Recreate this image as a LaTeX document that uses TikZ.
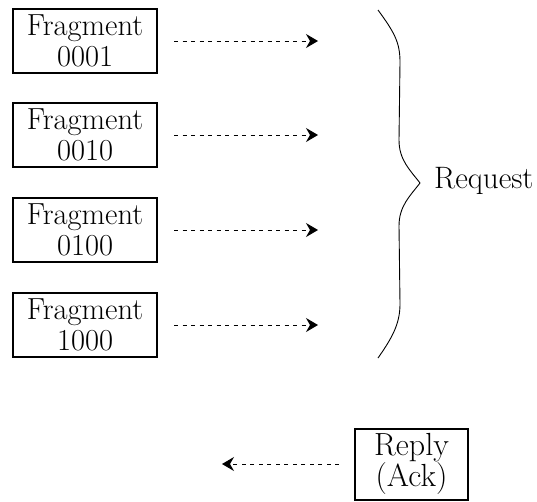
\documentclass[tikz,border=0pt]{standalone}
\usetikzlibrary{arrows.meta}
\begin{document}
\begin{tikzpicture}[x=1pt,y=-1pt,
  frag/.style={draw, line width=2pt, minimum width=144pt, minimum height=64pt,
    inner sep=0pt, align=center, font=\fontsize{30.5}{31}\selectfont},
  msg/.style={line width=0.9pt, dash pattern=on 4pt off 4.5pt,
    -{Stealth[length=12pt,width=14pt,inset=4pt]}},
  brace/.style={line width=0.9pt},
  lbl/.style={font=\fontsize{31}{31}\selectfont, inner sep=0pt}]
\useasboundingbox (0,0) rectangle (537,501);

% fragment boxes
\node[frag] (f1) at (85,41)  {Fragment\\0001};
\node[frag] (f2) at (85,135) {Fragment\\0010};
\node[frag] (f3) at (85,230) {Fragment\\0100};
\node[frag] (f4) at (85,325) {Fragment\\1000};

% arrow ends, level with each box
\coordinate (t1) at (318,41);
\coordinate (t2) at (318,135);
\coordinate (t3) at (318,230);
\coordinate (t4) at (318,325);

\draw[msg] ([xshift=16pt]f1.east) -- (t1);
\draw[msg] ([xshift=16pt]f2.east) -- (t2);
\draw[msg] ([xshift=16pt]f3.east) -- (t3);
\draw[msg] ([xshift=16pt]f4.east) -- (t4);

% brace grouping the fragments
\draw[brace] (378,10) .. controls (394,32) and (400,42) .. (400,62)
  -- (399,140) .. controls (399,160) and (410,170) .. (420,183)
  .. controls (410,196) and (399,206) .. (399,226)
  -- (400,304) .. controls (400,324) and (392,338) .. (378,358);

\node[lbl, anchor=west] (req) at (434,181) {Request};

% reply
\node[frag, minimum width=113pt, minimum height=71pt,
  font=\fontsize{32}{31}\selectfont] (rep) at (411.5,464) {Reply\\(Ack)};
\coordinate (rt) at (222,464);
\draw[msg] ([xshift=-15pt]rep.west) -- (rt);
\end{tikzpicture}
\end{document}
